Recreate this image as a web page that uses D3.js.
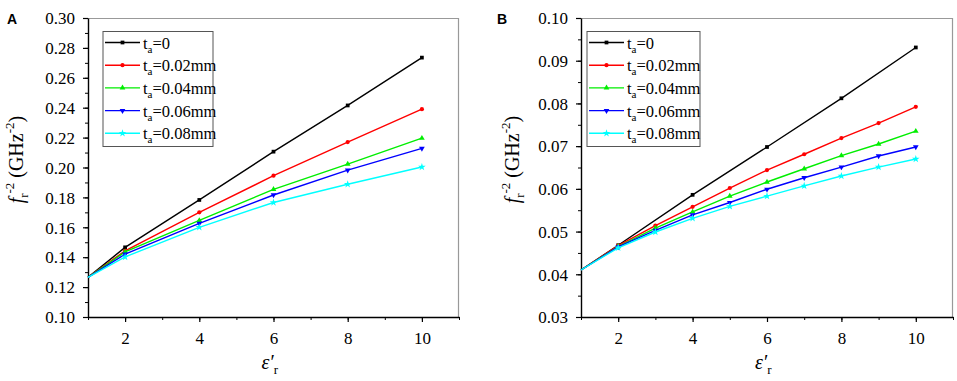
<!DOCTYPE html>
<html>
<head>
<meta charset="utf-8">
<script src="https://cdn.jsdelivr.net/npm/d3@7"></script>
<style>
  body { margin: 0; background: #fff; }
</style>
</head>
<body>
<script>
const width = 957
const height = 381
const serif = 'Liberation Serif, Times New Roman, serif'

const labels = ['0', '0.02mm', '0.04mm', '0.06mm', '0.08mm']
const colors = ['#000000', '#ff0000', '#00ee00', '#0000ff', '#00ffff']
const symbols = [d3.symbolSquare, d3.symbolCircle, d3.symbolTriangle, d3.symbolTriangle, d3.symbolStar]

// panel A: x = 1, 2, 4, 6, 8, 10
const xA = [1, 2, 4, 6, 8, 10]
const aT0 = [0.1265, 0.1466, 0.1783, 0.2106, 0.2415, 0.2735]
const aT02 = [0.1265, 0.1443, 0.1700, 0.1945, 0.2170, 0.2390]
const aT04 = [0.1265, 0.1435, 0.1646, 0.1854, 0.2023, 0.2196]
const aT06 = [0.1265, 0.1420, 0.1626, 0.1816, 0.1982, 0.2128]
const aT08 = [0.1265, 0.1402, 0.1600, 0.1766, 0.1888, 0.2003]

// panel B: black at 1, 2, 4, 6, 8, 10 ; others at 1..10
const xB0 = [1, 2, 4, 6, 8, 10]
const xB = [1, 2, 3, 4, 5, 6, 7, 8, 9, 10]
const bT0 = [0.0410, 0.0468, 0.0586, 0.0698, 0.0812, 0.0931]
const bT02 = [0.0410, 0.0467, 0.0514, 0.0558, 0.0602, 0.0644, 0.0681, 0.0719, 0.0754, 0.0792]
const bT04 = [0.0410, 0.0465, 0.0508, 0.0546, 0.0583, 0.0616, 0.0647, 0.0678, 0.0705, 0.0735]
const bT06 = [0.0410, 0.0464, 0.0503, 0.0539, 0.0568, 0.0599, 0.0626, 0.0651, 0.0677, 0.0698]
const bT08 = [0.0410, 0.0462, 0.0499, 0.0531, 0.0559, 0.0583, 0.0607, 0.0630, 0.0651, 0.0670]

const svg = d3.select('body')
  .append('svg')
  .attr('width', width)
  .attr('height', height)
  .attr('font-family', serif)

function drawPanel (p) {
  const g = svg.append('g')
    .attr('transform', `translate(${p.left}, ${p.top})`)

  const x = d3.scaleLinear().domain([1, 11]).range([0, p.w])
  const y = d3.scaleLinear().domain(p.yDomain).range([p.h, 0])

  // frame: grey top and right
  g.append('path')
    .attr('d', `M0,0.5H${p.w - 0.5}V${p.h}`)
    .attr('fill', 'none')
    .attr('stroke', '#999')
    .attr('stroke-width', 1.2)

  // minor ticks
  const minorY = d3.range(p.yDomain[0], p.yDomain[1] + 1e-9, p.yStep / 2)
  g.append('g')
    .attr('transform', `translate(0, ${p.h})`)
    .call(d3.axisBottom(x).tickValues(d3.range(1, 12)).tickFormat('').tickSizeInner(3).tickSizeOuter(0))
    .call(a => a.select('.domain').remove())
  g.append('g')
    .call(d3.axisLeft(y).tickValues(minorY).tickFormat('').tickSizeInner(3).tickSizeOuter(0))
    .call(a => a.select('.domain').remove())

  const xAxis = g.append('g')
    .attr('transform', `translate(0, ${p.h})`)
    .call(d3.axisBottom(x).tickValues([2, 4, 6, 8, 10]).tickSizeInner(5).tickSizeOuter(0).tickPadding(8))
  const majorY = d3.range(p.yDomain[0], p.yDomain[1] + 1e-9, p.yStep)
  const yAxis = g.append('g')
    .call(d3.axisLeft(y).tickValues(majorY).tickFormat(d3.format(p.fmt)).tickSizeInner(5).tickSizeOuter(0).tickPadding(8))

  for (const ax of [xAxis, yAxis]) {
    ax.attr('font-family', serif).attr('font-size', 17)
    ax.selectAll('.domain').attr('stroke-width', 1.4)
    ax.selectAll('.tick line').attr('stroke-width', 1.2)
    ax.selectAll('text').attr('fill', '#000')
  }
  xAxis.selectAll('text').attr('dy', '0.85em')
  yAxis.selectAll('text').attr('dy', '0.34em')

  const line = d3.line()
    .x(d => x(d[0]))
    .y(d => y(d[1]))

  p.series.forEach((s, i) => {
    const pts = s.xs.map((v, j) => [v, s.ys[j]])
    g.append('path')
      .datum(pts)
      .attr('d', line)
      .attr('fill', 'none')
      .attr('stroke', colors[i])
      .attr('stroke-width', 1.4)
    g.selectAll(null)
      .data(pts.slice(1))
      .enter()
      .append('path')
      .attr('d', d3.symbol().type(symbols[i]).size(i === 4 ? 18 : 14))
      .attr('transform', d => `translate(${x(d[0])}, ${y(d[1])})` + (i === 3 ? ' rotate(180)' : ''))
      .attr('fill', colors[i])
  })

  // legend
  const lg = g.append('g')
    .attr('transform', `translate(${p.legX}, 13.5)`)
  lg.append('rect')
    .attr('x', 0)
    .attr('y', 0)
    .attr('width', p.legW)
    .attr('height', 115)
    .attr('fill', '#fff')
    .attr('stroke', '#555')
    .attr('stroke-width', 1)
  labels.forEach((lab, i) => {
    const yy = 11 + i * 22.7
    lg.append('line')
      .attr('x1', 2).attr('x2', 37)
      .attr('y1', yy).attr('y2', yy)
      .attr('stroke', colors[i])
      .attr('stroke-width', 1.4)
    lg.append('path')
      .attr('d', d3.symbol().type(symbols[i]).size(i === 4 ? 18 : 14))
      .attr('transform', `translate(19.5, ${yy})` + (i === 3 ? ' rotate(180)' : ''))
      .attr('fill', colors[i])
    const t = lg.append('text')
      .attr('x', 40)
      .attr('y', yy + 6)
      .attr('font-size', 16.5)
    t.append('tspan').text('t')
    t.append('tspan').attr('font-size', 11).attr('dy', 4).text('a')
    t.append('tspan').attr('dy', -4).text('=' + lab)
  })

  // y title
  const yt = g.append('text')
    .attr('transform', `translate(${p.yTitleX}, ${p.h / 2 - 8}) rotate(-90)`)
    .attr('text-anchor', 'middle')
    .attr('font-size', 20)
  yt.append('tspan').attr('font-style', 'italic').text('f')
  yt.append('tspan').attr('font-size', 13).attr('dy', 5).text('r')
  yt.append('tspan').attr('font-size', 13).attr('dy', -14).attr('dx', 0).text('-2')
  yt.append('tspan').attr('dy', 9).text(' (GHz')
  yt.append('tspan').attr('font-size', 13).attr('dy', -9).text('-2')
  yt.append('tspan').attr('dy', 9).text(')')

  // x title
  const xt = g.append('text')
    .attr('x', x(5.9))
    .attr('y', p.h + 52)
    .attr('text-anchor', 'middle')
    .attr('font-size', 20)
  xt.append('tspan').attr('font-style', 'italic').text('ε′')
  xt.append('tspan').attr('font-size', 13).attr('dy', 5).text('r')

  // panel label
  svg.append('text')
    .attr('x', p.labelX)
    .attr('y', 24)
    .attr('font-family', 'Liberation Sans, Arial, sans-serif')
    .attr('font-weight', 'bold')
    .attr('font-size', 14)
    .text(p.label)
}

drawPanel({
  label: 'A',
  labelX: 7,
  left: 88,
  top: 18,
  w: 371,
  h: 299,
  yDomain: [0.10, 0.30],
  yStep: 0.02,
  fmt: '.2f',
  legX: 15,
  legW: 110,
  yTitleX: -65,
  series: [
    { xs: xA, ys: aT0 },
    { xs: xA, ys: aT02 },
    { xs: xA, ys: aT04 },
    { xs: xA, ys: aT06 },
    { xs: xA, ys: aT08 }
  ]
})

drawPanel({
  label: 'B',
  labelX: 497,
  left: 581,
  top: 18,
  w: 372,
  h: 299,
  yDomain: [0.03, 0.10],
  yStep: 0.01,
  fmt: '.2f',
  legX: 6,
  legW: 113,
  yTitleX: -62,
  series: [
    { xs: xB0, ys: bT0 },
    { xs: xB, ys: bT02 },
    { xs: xB, ys: bT04 },
    { xs: xB, ys: bT06 },
    { xs: xB, ys: bT08 }
  ]
})
</script>
</body>
</html>
